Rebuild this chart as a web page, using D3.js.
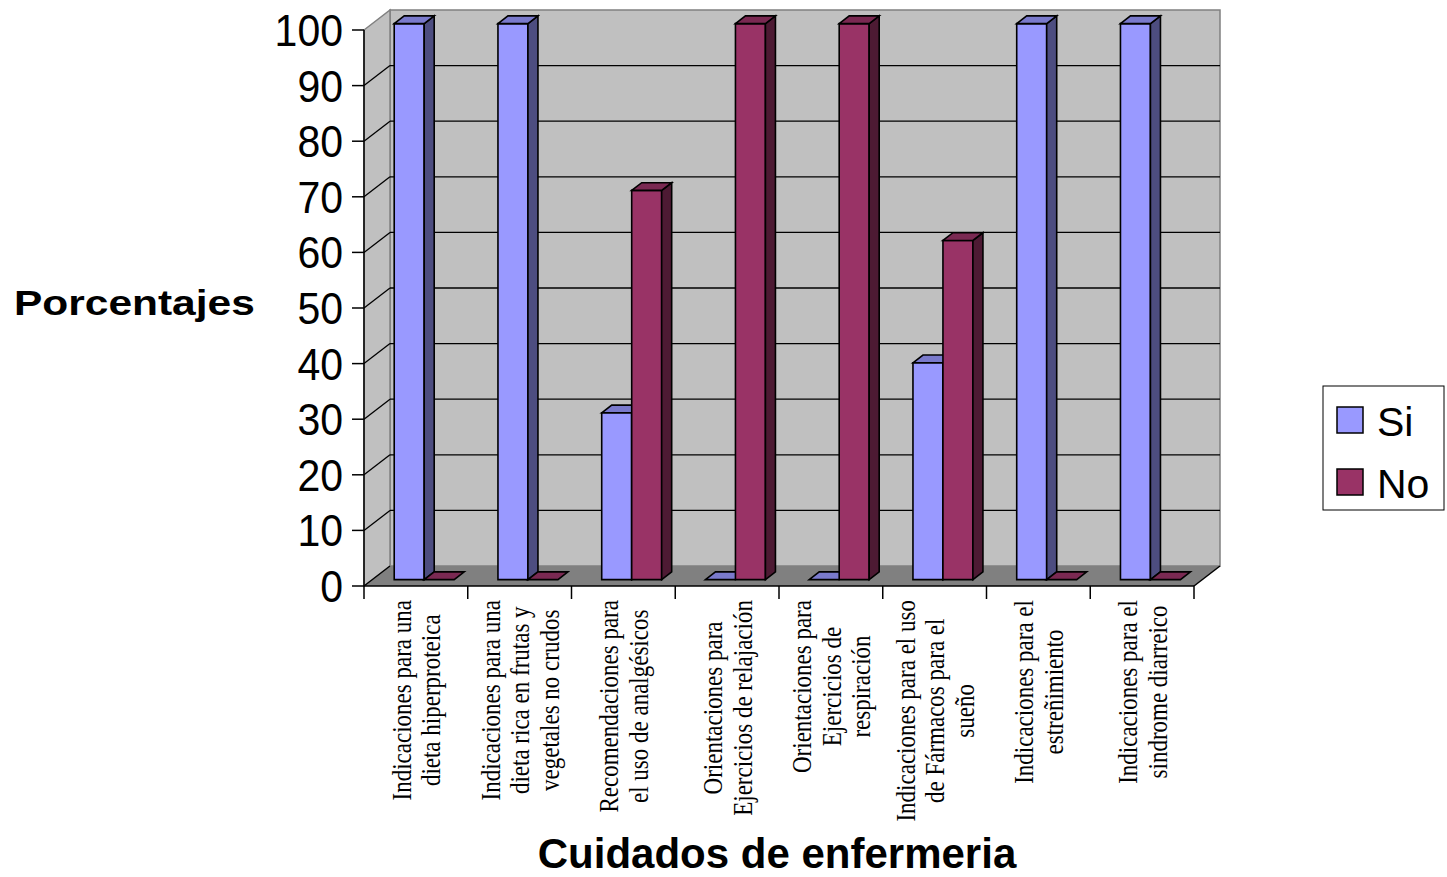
<!DOCTYPE html>
<html>
<head>
<meta charset="utf-8">
<script src="https://cdn.jsdelivr.net/npm/d3@7"></script>
<style>
  body { margin: 0; background: #fff; }
  svg { display: block; }
</style>
</head>
<body>
<div id="chart"></div>
<script>
// data
const categorias = [
  ['Indicaciones para una', 'dieta hiperproteica'],
  ['Indicaciones para una', 'dieta rica en frutas y', 'vegetales no crudos'],
  ['Recomendaciones para', 'el uso de analgésicos'],
  ['Orientaciones para', 'Ejercicios de relajación'],
  ['Orientaciones para', 'Ejercicios de', 'respiración'],
  ['Indicaciones para el uso', 'de Fármacos para el', 'sueño'],
  ['Indicaciones para el', 'estreñimiento'],
  ['Indicaciones para el', 'sindrome diarreico']
];
const series = ['Si', 'No'];
const valoresSi = [100, 100, 30, 0, 0, 39, 100, 100];
const valoresNo = [0, 0, 70, 100, 100, 61, 0, 0];
const yTicks = [0, 10, 20, 30, 40, 50, 60, 70, 80, 90, 100];

const W = 1447, H = 877;
const DX = 26, DY = -20;           // depth of the 3d box
const BAR_T0 = 0.32, BAR_DT = 0.385; // where the bars sit in the depth

const colors = {
  Si: {front: '#9999FF', top: '#7A7ACC', side: '#4D4D80'},
  No: {front: '#993366', top: '#7A2952', side: '#4D1A33'}
};

let x = d3.scaleBand()
  .domain(d3.range(categorias.length))
  .range([364, 1194])
  .padding(0);

let xs = d3.scaleBand()
  .domain(series)
  .range([0, x.bandwidth()])
  .paddingInner(0)
  .paddingOuter(0.73);

let y = d3.scaleLinear()
  .domain([0, 100])
  .range([586, 30]);

const svg = d3.select('#chart').append('svg')
  .attr('width', W)
  .attr('height', H);

const x0 = x.range()[0], x1 = x.range()[1];
const yTop = y(100), yBot = y(0);

// walls and floor
svg.append('polygon')
  .attr('points', [[x0 + DX, yTop + DY], [x1 + DX, yTop + DY], [x1 + DX, yBot + DY], [x0 + DX, yBot + DY]].join(' '))
  .style('fill', '#C0C0C0')
  .style('stroke', '#808080')
  .style('stroke-width', 1.5);

svg.append('polygon')
  .attr('points', [[x0, yTop], [x0 + DX, yTop + DY], [x0 + DX, yBot + DY], [x0, yBot]].join(' '))
  .style('fill', '#C0C0C0')
  .style('stroke', '#808080')
  .style('stroke-width', 1.5);

svg.append('polygon')
  .attr('points', [[x0, yBot], [x0 + DX, yBot + DY], [x1 + DX, yBot + DY], [x1, yBot]].join(' '))
  .style('fill', '#808080')
  .style('stroke', 'none');

// gridlines on back wall + side wall
yTicks.forEach(function(t) {
  if (t > 0 && t < 100) {
    svg.append('line')
      .attr('x1', x0 + DX).attr('x2', x1 + DX)
      .attr('y1', y(t) + DY).attr('y2', y(t) + DY)
      .style('stroke', '#000').style('stroke-width', 1.3);
  }
  if (t < 100) {
    svg.append('line')
      .attr('x1', x0).attr('x2', x0 + DX)
      .attr('y1', y(t)).attr('y2', y(t) + DY)
      .style('stroke', '#000').style('stroke-width', 1.3);
  }
});

// floor front edge and right diagonal
svg.append('line')
  .attr('x1', x0).attr('x2', x1).attr('y1', yBot).attr('y2', yBot)
  .style('stroke', '#000').style('stroke-width', 1.5);
svg.append('line')
  .attr('x1', x1).attr('x2', x1 + DX).attr('y1', yBot).attr('y2', yBot + DY)
  .style('stroke', '#000').style('stroke-width', 1.5);

// y axis
svg.append('line')
  .attr('x1', x0).attr('x2', x0).attr('y1', yTop).attr('y2', yBot)
  .style('stroke', '#000').style('stroke-width', 1.5);

yTicks.forEach(function(t) {
  svg.append('line')
    .attr('x1', x0 - 12).attr('x2', x0)
    .attr('y1', y(t)).attr('y2', y(t))
    .style('stroke', '#000').style('stroke-width', 1.5);
  svg.append('text')
    .attr('transform', 'translate(' + (x0 - 21) + ',' + (y(t) + 16) + ') scale(1,1.08)')
    .attr('text-anchor', 'end')
    .style('font-family', '"Liberation Sans", Arial, sans-serif')
    .style('font-size', '41px')
    .text(t);
});

// category ticks
d3.range(categorias.length + 1).forEach(function(i) {
  let xx = x0 + i * x.step();
  svg.append('line')
    .attr('x1', xx).attr('x2', xx)
    .attr('y1', yBot).attr('y2', yBot + 13)
    .style('stroke', '#000').style('stroke-width', 1.5);
});

// bars
const ox = DX * BAR_T0, oy = DY * BAR_T0;
const bx = DX * BAR_DT, by = DY * BAR_DT;

categorias.forEach(function(c, i) {
  [['Si', valoresSi[i]], ['No', valoresNo[i]]].forEach(function(s) {
    let name = s[0], v = s[1];
    let left = x(i) + xs(name) + ox;
    let right = left + xs.bandwidth();
    let top = y(v) + oy;
    let bottom = y(0) + oy;
    let g = svg.append('g')
      .style('stroke', '#000')
      .style('stroke-width', 1.6)
      .style('stroke-linejoin', 'miter');

    if (v > 0) {
      g.append('polygon')
        .attr('points', [[left, top], [right, top], [right, bottom], [left, bottom]].join(' '))
        .style('fill', colors[name].front);
      g.append('polygon')
        .attr('points', [[right, top], [right + bx, top + by], [right + bx, bottom + by], [right, bottom]].join(' '))
        .style('fill', colors[name].side);
    }
    g.append('polygon')
      .attr('points', [[left, top], [left + bx, top + by], [right + bx, top + by], [right, top]].join(' '))
      .style('fill', colors[name].top);
  });
});

// category labels
categorias.forEach(function(lines, i) {
  let cx = x(i) + x.bandwidth() / 2;
  let lh = 24.5;
  let g = svg.append('g');
  let texts = g.selectAll('text')
    .data(lines)
    .join('text')
    .attr('x', 0)
    .attr('y', (d, k) => (k - (lines.length - 1) / 2) * lh)
    .attr('dy', '0.35em')
    .attr('text-anchor', 'middle')
    .style('font-family', '"Liberation Serif", "Times New Roman", serif')
    .style('font-size', '23px')
    .text(d => d);
  let maxW = d3.max(texts.nodes(), n => n.getComputedTextLength());
  g.attr('transform', 'translate(' + cx + ',' + (600 + maxW / 2) + ') scale(1.2,1) rotate(-90)');
});

// axis titles
svg.append('text')
  .attr('transform', 'translate(14,315) scale(1.18,1)')
  .style('font-family', '"Liberation Sans", Arial, sans-serif')
  .style('font-weight', 'bold')
  .style('font-size', '36px')
  .text('Porcentajes');

svg.append('text')
  .attr('x', 777)
  .attr('y', 868)
  .attr('text-anchor', 'middle')
  .style('font-family', '"Liberation Sans", Arial, sans-serif')
  .style('font-weight', 'bold')
  .style('font-size', '42px')
  .text('Cuidados de enfermeria');

// legend
let legend = svg.append('g');
legend.append('rect')
  .attr('x', 1323).attr('y', 386)
  .attr('width', 121).attr('height', 124)
  .style('fill', '#fff')
  .style('stroke', '#000')
  .style('stroke-width', 1);

series.forEach(function(s, k) {
  let yy = 407 + k * 62;
  legend.append('rect')
    .attr('x', 1337).attr('y', yy)
    .attr('width', 26).attr('height', 26)
    .style('fill', colors[s].front)
    .style('stroke', '#000')
    .style('stroke-width', 1.5);
  legend.append('text')
    .attr('x', 1377)
    .attr('y', yy + 29)
    .style('font-family', '"Liberation Sans", Arial, sans-serif')
    .style('font-size', '41px')
    .text(s);
});
</script>
</body>
</html>
